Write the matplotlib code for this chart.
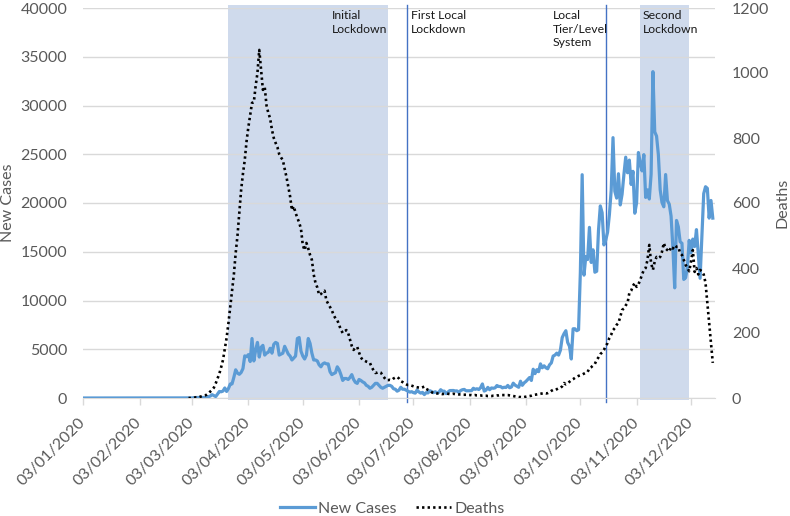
import matplotlib
matplotlib.use("Agg")
import matplotlib.pyplot as plt
import matplotlib.dates as mdates
from matplotlib.lines import Line2D
import pandas as pd

plt.rcParams['font.family'] = ['Lato', 'DejaVu Sans']

# ---------------- data ----------------
# New cases, daily, 03/01/2020 .. 29/02/2020 (all zero), then Mar 1 .. Dec 15
cases_jan_feb = [0] * 58
cases_mar = [10, 5, 10, 30, 50, 50, 40, 60, 50, 50, 80, 130, 200, 340, 250, 150, 400, 670,
             640, 710, 1030, 670, 970, 1430, 1450, 2130, 2890, 2550, 2430, 2620, 3010]
cases_apr = [4320, 4240, 4450, 3740, 6100, 3800, 4900, 5700, 4200, 5200, 5400, 4400, 4600,
             4700, 5100, 4600, 5500, 5700, 5600, 4400, 4500, 4600, 5300, 4900, 4500, 4300,
             3900, 4100, 4300, 6100]
cases_may = [6200, 4800, 4300, 4000, 4400, 6100, 5600, 4600, 3900, 3900, 3800, 3400, 3200,
             3500, 3600, 3500, 3500, 2700, 2400, 2500, 2600, 3200, 2900, 2400, 1800, 2000,
             2000, 1900, 2100, 2400, 1900]
cases_jun = [1600, 1500, 1900, 1800, 1650, 1550, 1300, 1200, 1000, 1100, 1300, 1500, 1500,
             1300, 1100, 1000, 1100, 1200, 1300, 1300, 1200, 950, 900, 700, 800, 1100, 900,
             900, 800, 700]
cases_jul = [600, 650, 550, 500, 820, 620, 500, 580, 350, 550, 520, 750, 660, 550, 640, 540,
             580, 850, 700, 700, 450, 600, 760, 770, 770, 720, 730, 580, 760, 850, 880]
cases_aug = [740, 740, 740, 750, 1000, 890, 950, 870, 1060, 1440, 710, 810, 1090, 850, 1030,
             1000, 1040, 1280, 1180, 1180, 1040, 1100, 1080, 1290, 1050, 1130, 1520, 1320,
             1210, 1100, 1720]
cases_sep = [1300, 1550, 1700, 1900, 2100, 1800, 2950, 2500, 2900, 2700, 3500, 3100, 3300,
             3100, 3000, 3400, 3600, 4300, 4400, 4600, 4400, 4900, 6200, 6600, 6900, 5700,
             5300, 4000, 7100, 7100]
cases_oct = [6900, 7000, 12900, 22900, 12600, 14500, 14200, 17500, 13900, 15200, 12900,
             13000, 17200, 19700, 19000, 15700, 16200, 17000, 18800, 21300, 26700, 21200,
             20500, 23000, 19800, 20900, 22900, 24700, 23100, 24400, 21900]
cases_nov = [23250, 18950, 20020, 25180, 24140, 23290, 24960, 20570, 21350, 20410, 22950,
             33470, 27300, 26860, 24960, 21360, 20050, 19610, 22920, 20250, 19880, 18660,
             15450, 11300, 18210, 17560, 16020, 15870, 12160, 12330]
cases_dec = [13430, 16170, 14880, 16300, 15540, 17270, 14720, 12280, 16580, 20960, 21670,
             21500, 18450, 20260, 18450]

# Deaths, daily, Mar 1 .. Dec 15
deaths_mar = [0, 0, 1, 1, 2, 2, 3, 5, 7, 8, 10, 14, 20, 25, 32, 45, 60, 75, 95, 117, 150,
              185, 230, 280, 330, 380, 446, 500, 569, 640, 690]
deaths_apr = [732, 790, 834, 870, 908, 910, 960, 1000, 1071, 1010, 948, 957, 900, 877, 860,
              825, 800, 785, 772, 750, 740, 732, 705, 680, 650, 620, 578, 590, 570, 554]
deaths_may = [540, 520, 470, 455, 477, 460, 440, 425, 380, 354, 340, 317, 320, 326, 330, 300,
              290, 280, 270, 255, 245, 240, 225, 210, 200, 205, 209, 200, 180, 160, 148]
deaths_jun = [155, 157, 140, 125, 117, 115, 112, 110, 108, 95, 85, 77, 78, 80, 78, 70, 62, 55,
              55, 56, 55, 60, 63, 65, 60, 52, 49, 45, 42, 40]
deaths_jul = [40, 38, 36, 34, 33, 32, 31, 33, 35, 28, 25, 22, 18, 15, 15, 14, 14, 13, 12, 13,
              14, 13, 12, 12, 13, 12, 12, 11, 11, 10, 10]
deaths_aug = [10, 9, 9, 9, 8, 9, 8, 8, 8, 7, 7, 7, 6, 6, 6, 7, 7, 8, 8, 9, 9, 9, 9, 9, 8, 7,
              6, 5, 4, 3, 3]
deaths_sep = [2, 3, 4, 5, 6, 7, 9, 10, 11, 12, 13, 14, 15, 14, 15, 18, 22, 25, 24, 27, 30,
              31, 36, 46, 42, 45, 50, 55, 58, 62]
deaths_oct = [65, 68, 70, 72, 75, 78, 80, 92, 95, 100, 105, 117, 125, 135, 140, 148, 160, 169,
              185, 195, 209, 215, 225, 231, 250, 271, 275, 285, 292, 323, 330]
deaths_nov = [345, 354, 342, 350, 363, 380, 394, 400, 425, 471, 415, 394, 420, 434, 430, 434,
              450, 477, 460, 455, 450, 465, 460, 470, 465, 465, 446, 440, 425, 410]
deaths_dec = [400, 390, 420, 455, 388, 400, 380, 394, 390, 380, 354, 292, 231, 169, 108]

cases = (cases_jan_feb + cases_mar + cases_apr + cases_may + cases_jun + cases_jul +
         cases_aug + cases_sep + cases_oct + cases_nov + cases_dec)
deaths = (deaths_mar + deaths_apr + deaths_may + deaths_jun + deaths_jul + deaths_aug +
          deaths_sep + deaths_oct + deaths_nov + deaths_dec)

case_dates = pd.date_range('2020-01-03', periods=len(cases), freq='D')
death_dates = pd.date_range('2020-03-01', periods=len(deaths), freq='D')

tick_dates = pd.to_datetime(['2020-01-03', '2020-02-03', '2020-03-03', '2020-04-03',
                             '2020-05-03', '2020-06-03', '2020-07-03', '2020-08-03',
                             '2020-09-03', '2020-10-03', '2020-11-03', '2020-12-03'])

lockdown_periods = [('2020-03-23', '2020-06-19'), ('2020-11-05', '2020-12-02')]
event_lines = ['2020-06-29 16:00', '2020-10-17']
annotations = [('Initial\nLockdown', 332), ('First Local\nLockdown', 411),
               ('Local\nTier/Level\nSystem', 553), ('Second\nLockdown', 643)]

# ---------------- figure ----------------
W, H = 790, 516
fig = plt.figure(figsize=(W / 100, H / 100), dpi=100)
left_px, right_px, top_px, bot_px = 83.3, 714.6, 8, 398
ax = fig.add_axes([left_px / W, 1 - bot_px / H, (right_px - left_px) / W, (bot_px - top_px) / H])
ax2 = ax.twinx()

grey = '#595959'
blue = '#5B9BD5'
dots = (0, (0.9, 1.2))

for s, e in lockdown_periods:
    ax.axvspan(pd.Timestamp(s), pd.Timestamp(e), ymin=-0.005, ymax=1.008,
               color='#CFDAEC', zorder=0.2, lw=0, clip_on=False)
for d in event_lines:
    ax.axvline(pd.Timestamp(d), ymin=-0.01, ymax=1.008, color='#4472C4', lw=1.0,
               zorder=0.6, clip_on=False)

ax.plot(case_dates, cases, color=blue, lw=2.3, zorder=3, solid_joinstyle='round')
ax2.plot(death_dates, deaths, color='black', lw=1.9, linestyle=dots, zorder=3)

ax.set_xlim(pd.Timestamp('2020-01-03'), pd.Timestamp('2020-12-16'))
ax.set_ylim(0, 40000)
ax2.set_ylim(0, 1200)
ax.set_yticks(range(0, 40001, 5000))
ax2.set_yticks(range(0, 1201, 200))

ax.set_axisbelow(True)
ax.yaxis.grid(True, color='#D9D9D9', lw=1.0, zorder=0.5)

for a in (ax, ax2):
    for sp in ('left', 'right', 'top'):
        a.spines[sp].set_visible(False)
ax.spines['bottom'].set_color('#D9D9D9')
ax2.spines['bottom'].set_visible(False)

ax.set_xticks(tick_dates)
ax.xaxis.set_major_formatter(mdates.DateFormatter('%d/%m/%Y'))
ax.tick_params(axis='x', direction='out', length=5, color='#D9D9D9', width=1,
               labelsize=11.5, labelcolor=grey, pad=11)
for lab in ax.get_xticklabels():
    lab.set_rotation(45)
    lab.set_ha('right')
    lab.set_va('center')
    lab.set_rotation_mode('anchor')
ax.tick_params(axis='y', length=0, labelsize=11.5, labelcolor=grey, pad=11.5)
ax2.tick_params(axis='y', length=0, labelsize=11.5, labelcolor=grey, pad=12.5)

fig.text(8 / W, 1 - 203 / H, 'New Cases', rotation=90, ha='center', va='center',
         fontsize=11.5, color=grey)
fig.text(783 / W, 1 - 203 / H, 'Deaths', rotation=90, ha='center', va='center',
         fontsize=11.5, color=grey)

for txt, xp in annotations:
    fig.text(xp / W, 1 - 10 / H, txt, ha='left', va='top', fontsize=8.8,
             color='#1a1a1a', linespacing=1.3)

handles = [Line2D([], [], color=blue, lw=2.3),
           Line2D([], [], color='black', lw=1.9, linestyle=dots)]
fig.legend(handles, ['New Cases', 'Deaths'], loc='center', ncol=2, frameon=False,
           bbox_to_anchor=(392 / W, 1 - 509 / H), fontsize=11.5, labelcolor=grey,
           handlelength=2.2, handletextpad=0.2, columnspacing=1.2)

fig.savefig('out.png', dpi=100)
